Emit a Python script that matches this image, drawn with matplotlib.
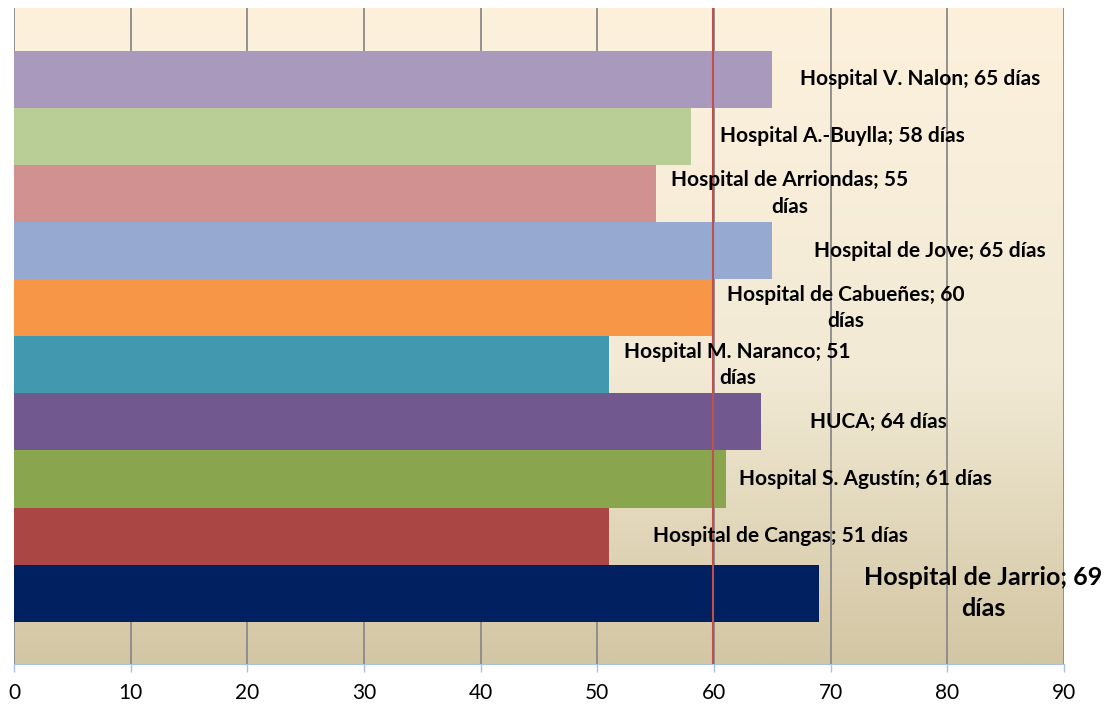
import numpy as np
import matplotlib.pyplot as plt
from matplotlib.colors import LinearSegmentedColormap

# Datos (de abajo hacia arriba, como en el gráfico)
hospitales = ['Hospital de Jarrio', 'Hospital de Cangas', 'Hospital S. Agustín', 'HUCA',
              'Hospital M. Naranco', 'Hospital de Cabueñes', 'Hospital de Jove',
              'Hospital de Arriondas', 'Hospital A.-Buylla', 'Hospital V. Nalon']
dias = [69, 51, 61, 64, 51, 60, 65, 55, 58, 65]
media = 59.9  # línea roja de referencia
xticks = [0, 10, 20, 30, 40, 50, 60, 70, 80, 90]

colores = ['#002060', '#AA4643', '#89A54E', '#71588F', '#4198AF',
           '#F79646', '#95A9D1', '#D09190', '#B9CD96', '#A99ABD']

# posición horizontal (centro) de cada etiqueta y si va en dos líneas
etiqueta_x = [83.1, 65.7, 73.0, 74.1, 62.0, 71.3, 78.5, 66.5, 71.0, 77.7]
dos_lineas = [True, False, False, False, True, True, False, True, False, False]

fig = plt.figure(figsize=(11.08, 7.06), dpi=100)
ax = fig.add_axes([14 / 1108, 42 / 706, 1050 / 1108, 656 / 706])

# fondo degradado
fondo = LinearSegmentedColormap.from_list('fondo', [(0, '#D3C6A3'), (0.45, '#F2EAD5'), (1, '#FDF1DC')])
grad = np.linspace(0, 1, 256).reshape(-1, 1)
ax.imshow(grad, cmap=fondo, aspect='auto', extent=[0, 1, 0, 1], origin='lower',
          transform=ax.transAxes, zorder=0)

y = np.arange(len(dias))
ax.barh(y, dias, height=1.0, color=colores, zorder=2)

for t in xticks:
    ax.axvline(t, color='#8A8A8A', lw=1.3, zorder=1)
ax.axvline(media, color='#C0504D', lw=1.5, zorder=3)

for i, (h, d) in enumerate(zip(hospitales, dias)):
    if dos_lineas[i]:
        texto = f'{h}; {d}\ndías'
    else:
        texto = f'{h}; {d} días'
    size = 18 if i == 0 else 15
    ax.text(etiqueta_x[i], y[i], texto, ha='center', va='center', fontsize=size,
            fontweight='bold', family='Lato', color='black', zorder=4,
            linespacing=1.4, clip_on=False)

ax.set_xlim(0, 90)
ax.set_ylim(-0.5 - 0.74, 9.5 + 0.75)
ax.set_xticks(xticks)
ax.set_yticks([])
ax.tick_params(axis='x', colors='#A9C1DE', length=6, width=1, labelsize=15,
               labelcolor='black', pad=8)
for lbl in ax.get_xticklabels():
    lbl.set_family('Lato')
for s in ['top', 'right', 'left']:
    ax.spines[s].set_visible(False)
ax.spines['bottom'].set_color('#A9C1DE')

fig.savefig('out.png', dpi=100)
